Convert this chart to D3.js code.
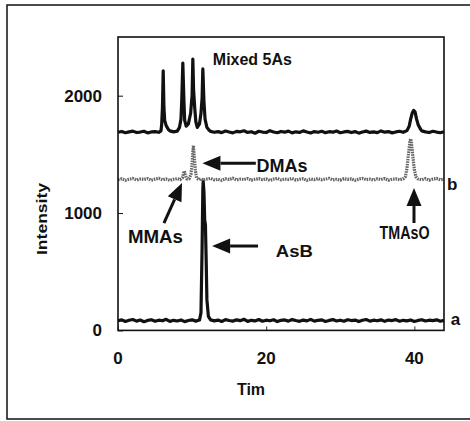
<!DOCTYPE html>
<html>
<head>
<meta charset="utf-8">
<script src="https://cdn.jsdelivr.net/npm/d3@7"></script>
<style>
  body { margin: 0; background: #fff; }
  text { font-family: "Liberation Sans", Arial, sans-serif; font-weight: bold; fill: #111; }
</style>
</head>
<body>
<div id="chart"></div>
<script>
// Data: [time, intensity]
const mixedTrace = [
  [0, 1688], [0.5, 1695], [1, 1684], [1.5, 1692], [2, 1698], [2.5, 1686], [3, 1690], [3.5, 1697],
  [4, 1683], [4.5, 1691], [5, 1694], [5.5, 1688], [5.8, 1700], [5.9, 1760], [6.0, 1900], [6.1, 2212],
  [6.2, 1900], [6.3, 1790], [6.5, 1745], [6.8, 1712], [7.0, 1700], [7.5, 1692], [8.0, 1698], [8.3, 1730],
  [8.5, 1800], [8.6, 1950], [8.75, 2278], [8.9, 1950], [9.0, 1790], [9.2, 1740], [9.5, 1760], [9.8, 1850],
  [10.0, 2000], [10.1, 2312], [10.2, 2050], [10.35, 1900], [10.5, 1780], [10.7, 1730], [11.0, 1760],
  [11.2, 1850], [11.35, 1980], [11.45, 2228], [11.6, 1950], [11.75, 1800], [12.0, 1730], [12.3, 1705],
  [12.5, 1696], [13, 1688], [13.5, 1694], [14, 1685], [14.5, 1699], [15, 1690], [15.5, 1683], [16, 1696],
  [16.5, 1692], [17, 1701], [17.5, 1687], [18, 1693], [18.5, 1680], [19, 1697], [19.5, 1690], [20, 1686],
  [20.5, 1702], [21, 1691], [21.5, 1684], [22, 1695], [22.5, 1689], [23, 1698], [23.5, 1683], [24, 1692],
  [24.5, 1687], [25, 1700], [25.5, 1690], [26, 1682], [26.5, 1694], [27, 1688], [27.5, 1697], [28, 1685],
  [28.5, 1693], [29, 1689], [29.5, 1699], [30, 1684], [30.5, 1691], [31, 1696], [31.5, 1686], [32, 1694],
  [32.5, 1681], [33, 1690], [33.5, 1698], [34, 1687], [34.5, 1692], [35, 1685], [35.5, 1700], [36, 1689],
  [36.5, 1694], [37, 1683], [37.5, 1691], [38, 1697], [38.5, 1688], [39, 1702], [39.3, 1740], [39.5, 1800],
  [39.7, 1850], [39.9, 1875], [40.1, 1860], [40.3, 1800], [40.5, 1755], [40.8, 1718], [41, 1700],
  [41.5, 1692], [42, 1686], [42.5, 1697], [43, 1690], [43.5, 1684], [44, 1693]
];

const traceB = [
  [0, 1284], [0.5, 1292], [1, 1279], [1.5, 1288], [2, 1295], [2.5, 1281], [3, 1290], [3.5, 1286],
  [4, 1294], [4.5, 1280], [5, 1289], [5.5, 1296], [6, 1283], [6.5, 1290], [7, 1278], [7.5, 1288],
  [8, 1293], [8.4, 1285], [8.7, 1300], [8.85, 1340], [8.96, 1357], [9.1, 1320], [9.3, 1290],
  [9.6, 1292], [9.85, 1330], [10.0, 1420], [10.1, 1530], [10.18, 1575], [10.3, 1480], [10.45, 1360],
  [10.6, 1300], [10.9, 1284], [11.2, 1292], [11.5, 1281], [12, 1290], [12.5, 1295], [13, 1283],
  [13.5, 1289], [14, 1279], [14.5, 1292], [15, 1286], [15.5, 1297], [16, 1282], [16.5, 1290], [17, 1285],
  [17.5, 1294], [18, 1280], [18.5, 1288], [19, 1293], [19.5, 1284], [20, 1291], [20.5, 1278], [21, 1289],
  [21.5, 1296], [22, 1283], [22.5, 1290], [23, 1286], [23.5, 1295], [24, 1281], [24.5, 1288], [25, 1292],
  [25.5, 1279], [26, 1290], [26.5, 1285], [27, 1294], [27.5, 1283], [28, 1289], [28.5, 1296], [29, 1282],
  [29.5, 1288], [30, 1280], [30.5, 1293], [31, 1287], [31.5, 1291], [32, 1279], [32.5, 1290], [33, 1295],
  [33.5, 1284], [34, 1289], [34.5, 1281], [35, 1292], [35.5, 1286], [36, 1294], [36.5, 1280], [37, 1288],
  [37.5, 1291], [38, 1283], [38.5, 1292], [38.8, 1310], [39.0, 1380], [39.2, 1500], [39.4, 1610],
  [39.5, 1633], [39.6, 1600], [39.8, 1480], [40.0, 1370], [40.2, 1310], [40.5, 1290], [41, 1284],
  [41.5, 1293], [42, 1280], [42.5, 1289], [43, 1295], [43.5, 1283], [44, 1290]
];

const traceA = [
  [0, 82], [0.5, 90], [1, 76], [1.5, 86], [2, 93], [2.5, 79], [3, 88], [3.5, 74], [4, 85], [4.5, 91],
  [5, 78], [5.5, 87], [6, 82], [6.5, 94], [7, 77], [7.5, 86], [8, 80], [8.5, 89], [9, 75], [9.5, 84],
  [10, 90], [10.5, 79], [11.0, 88], [11.2, 150], [11.35, 700], [11.45, 1200], [11.5, 1268], [11.6, 1180],
  [11.7, 940], [11.8, 900], [11.9, 600], [12.0, 260], [12.2, 120], [12.5, 90], [13, 81], [13.5, 88],
  [14, 76], [14.5, 92], [15, 84], [15.5, 79], [16, 90], [16.5, 83], [17, 95], [17.5, 77], [18, 86],
  [18.5, 81], [19, 93], [19.5, 78], [20, 87], [20.5, 82], [21, 91], [21.5, 75], [22, 86], [22.5, 89],
  [23, 79], [23.5, 92], [24, 84], [24.5, 77], [25, 88], [25.5, 81], [26, 94], [26.5, 79], [27, 86],
  [27.5, 90], [28, 76], [28.5, 85], [29, 92], [29.5, 80], [30, 87], [30.5, 78], [31, 91], [31.5, 84],
  [32, 88], [32.5, 75], [33, 86], [33.5, 93], [34, 79], [34.5, 87], [35, 82], [35.5, 90], [36, 77],
  [36.5, 88], [37, 84], [37.5, 92], [38, 78], [38.5, 86], [39, 81], [39.5, 89], [40, 76], [40.5, 85],
  [41, 91], [41.5, 80], [42, 87], [42.5, 83], [43, 90], [43.5, 78], [44, 85]
];

const xTicks = [0, 20, 40];
const yTicks = [0, 1000, 2000];

// Arrow annotations: tip and tail in data units
const arrows = [
  { name: "DMAs", tip: [11.4, 1425], tail: [18.6, 1425] },
  { name: "MMAs", tip: [8.64, 1257], tail: [6.2, 915] },
  { name: "AsB", tip: [12.7, 719], tail: [18.9, 719] },
  { name: "TMAsO", tip: [39.95, 1213], tail: [39.95, 915] }
];
const labels = [
  { text: "Mixed 5As", t: 12.8, v: 2258, size: 16, len: 79 },
  { text: "DMAs", t: 18.7, v: 1352, size: 18, len: 51 },
  { text: "MMAs", t: 1.35, v: 745, size: 18, len: 55 },
  { text: "AsB", t: 21.3, v: 625, size: 17, len: 37 },
  { text: "TMAsO", t: 35.3, v: 779, size: 18, len: 50 },
  { text: "b", t: 44.4, v: 1196, size: 17, len: null },
  { text: "a", t: 44.9, v: 48, size: 17, len: null }
];

const width = 470, height = 421;
const plot = { left: 118, right: 444, top: 37, bottom: 330.4 };

const svg = d3.select("#chart").append("svg")
  .attr("width", width).attr("height", height);

// outer frame
svg.append("rect")
  .attr("x", 7).attr("y", 5).attr("width", 480).attr("height", 414)
  .attr("fill", "none").attr("stroke", "#111").attr("stroke-width", 1.5);

const x = d3.scaleLinear().domain([0, 44]).range([plot.left, plot.right]);
const y = d3.scaleLinear().domain([0, 2500]).range([plot.bottom, plot.top]);

// axes (ticks inward, labels drawn separately)
svg.append("g")
  .attr("transform", `translate(0,${plot.bottom})`)
  .call(d3.axisBottom(x).tickValues(xTicks).tickSize(-4).tickFormat(""))
  .call(g => g.select(".domain").remove())
  .selectAll("line").attr("stroke", "#333");
svg.append("g")
  .attr("transform", `translate(${plot.left},0)`)
  .call(d3.axisLeft(y).tickValues(yTicks).tickSize(-5).tickFormat(""))
  .call(g => g.select(".domain").remove())
  .selectAll("line").attr("stroke", "#111");

svg.selectAll(".xlab").data(xTicks).enter().append("text")
  .attr("x", d => x(d)).attr("y", 364)
  .attr("text-anchor", "middle").attr("font-size", 17).text(d => d);
svg.selectAll(".ylab").data(yTicks).enter().append("text")
  .attr("x", 102).attr("y", d => y(d) + 6)
  .attr("text-anchor", "end").attr("font-size", 17).text(d => d);

svg.append("text")
  .attr("transform", "translate(47,219) rotate(-90)")
  .attr("text-anchor", "middle").attr("font-size", 15)
  .attr("textLength", 72).attr("lengthAdjust", "spacingAndGlyphs")
  .text("Intensity");
svg.append("text")
  .attr("x", 251).attr("y", 395).attr("text-anchor", "middle")
  .attr("font-size", 16).text("Tim");

// traces
const line = d3.line().x(d => x(d[0])).y(d => y(d[1]));

svg.append("path").datum(traceA)
  .attr("d", line).attr("fill", "none")
  .attr("stroke", "#111").attr("stroke-width", 3.2).attr("stroke-linejoin", "round");
svg.append("path").datum(traceB)
  .attr("d", line).attr("fill", "none")
  .attr("stroke", "#666").attr("stroke-width", 3.2)
  .attr("stroke-dasharray", "1.6,0.9").attr("stroke-linejoin", "round");
svg.append("path").datum(mixedTrace)
  .attr("d", line).attr("fill", "none")
  .attr("stroke", "#111").attr("stroke-width", 3.2).attr("stroke-linejoin", "round");

// plot frame
svg.append("rect")
  .attr("x", plot.left).attr("y", plot.top)
  .attr("width", plot.right - plot.left).attr("height", plot.bottom - plot.top)
  .attr("fill", "none").attr("stroke", "#111").attr("stroke-width", 1.6);

// arrows
const headLen = 18, headHalf = 7.5;
arrows.forEach(a => {
  const tx = x(a.tip[0]), ty = y(a.tip[1]);
  const sx = x(a.tail[0]), sy = y(a.tail[1]);
  const ang = Math.atan2(ty - sy, tx - sx);
  const bx = tx - headLen * Math.cos(ang), by = ty - headLen * Math.sin(ang);
  svg.append("line")
    .attr("x1", sx).attr("y1", sy).attr("x2", bx).attr("y2", by)
    .attr("stroke", "#111").attr("stroke-width", 3);
  const px = -Math.sin(ang) * headHalf, py = Math.cos(ang) * headHalf;
  svg.append("path")
    .attr("d", `M${tx},${ty}L${bx + px},${by + py}L${bx - px},${by - py}Z`)
    .attr("fill", "#111");
});

labels.forEach(l => {
  const t = svg.append("text")
    .attr("x", x(l.t)).attr("y", y(l.v))
    .attr("font-size", l.size).text(l.text);
  if (l.len) t.attr("textLength", l.len).attr("lengthAdjust", "spacingAndGlyphs");
});
</script>
</body>
</html>
